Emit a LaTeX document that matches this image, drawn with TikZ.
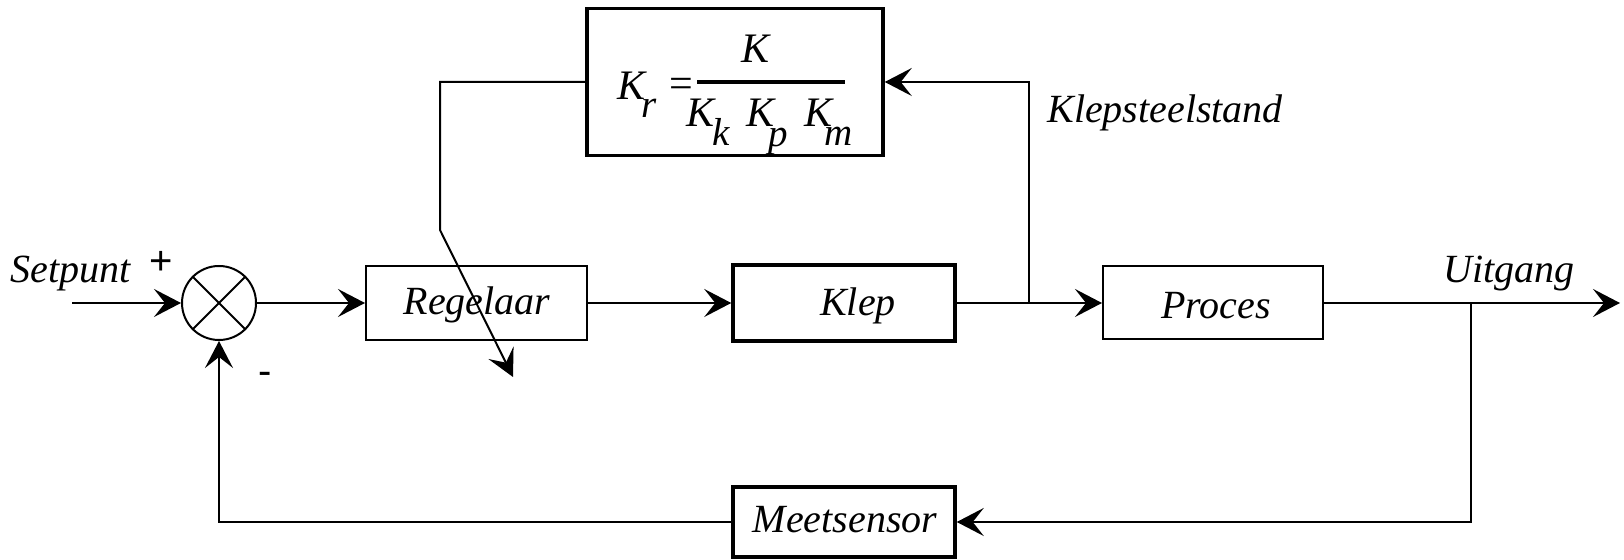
\documentclass[tikz,border=0pt]{standalone}
\usepackage{fontspec}
\setmainfont{Liberation Serif}
\newfontfamily\tnr{Liberation Serif}
\newfontfamily\sansf{Liberation Sans}
\usetikzlibrary{arrows.meta}
\begin{document}
\begin{tikzpicture}[x=0.5pt,y=-0.5pt,
  lbl/.style={inner sep=0pt, font=\tnr\fontsize{20}{24}\selectfont\itshape},
  fml/.style={inner sep=0pt, font=\tnr\fontsize{21}{24}\selectfont\itshape},
  sub/.style={inner sep=0pt, font=\tnr\fontsize{19.5}{22}\selectfont\itshape},
  sgn/.style={inner sep=0pt, font=\sansf\fontsize{20}{24}\selectfont},
  thinbox/.style={draw, line width=1pt, inner sep=0pt},
  thickbox/.style={draw, line width=1.75pt, inner sep=0pt},
  arr/.style={-{Stealth[length=13.5pt,width=14pt,inset=5.5pt]}, line width=1pt},
  conn/.style={line width=1pt}]
\useasboundingbox (0,0) rectangle (1624,560);

% blocks
\node[draw, circle, line width=1pt, minimum size=37pt, inner sep=0pt] (sum) at (219,303) {};
\node[thinbox, minimum width=110.5pt, minimum height=37pt] (reg) at (476.5,303) {};
\node[thickbox, minimum width=111pt, minimum height=38pt] (klep) at (844,303) {};
\node[thinbox, minimum width=110pt, minimum height=36.5pt] (proc) at (1213,303) {};
\node[thickbox, minimum width=111pt, minimum height=35pt] (meet) at (844,522) {};
\node[thickbox, minimum width=148pt, minimum height=73.5pt] (ctrl) at (735,82) {};

\draw[conn] (sum.north west) -- (sum.south east);
\draw[conn] (sum.north east) -- (sum.south west);

% coordinates
\coordinate (in) at (72,303);
\coordinate (out) at (1620,303);
\coordinate (j1) at (1029,303);
\coordinate (j2) at (1471,303);
\coordinate (c1) at (440,230);
\coordinate (tip) at (513,377);

% connectors
\draw[arr] (in) -- (sum.west);
\draw[arr] (sum.east) -- (reg.west);
\draw[arr] (reg.east) -- (klep.west);
\draw[arr] (klep.east) -- (proc.west);
\draw[arr] (proc.east) -- (out);
\draw[arr] (j1) |- (ctrl.east);
\draw[arr] (j2) |- (meet.east);
\draw[arr] (meet.west) -| (sum.south);
\draw[arr] (ctrl.west) -| (c1) -- (tip);

% labels
\node[lbl, anchor=base west] (lset) at (10,283) {Setpunt};
\node[sgn] (lplus) at (161,263) {+};
\node[sgn] (lminus) at (265,378) {-};
\node[lbl, anchor=base] (lreg) at (477,315) {Regelaar};
\node[lbl, anchor=base] (lklep) at (858,316) {Klep};
\node[lbl, anchor=base] (lproc) at (1216,319) {Proces};
\node[lbl, anchor=base] (lmeet) at (845,533) {Meetsensor};
\node[lbl, anchor=base west] (lks) at (1047,123) {Klepsteelstand};
\node[lbl, anchor=base west] (luit) at (1443,283) {Uitgang};

% formula
\node[fml, anchor=base west] (fK) at (617,100) {K};
\node[sub, anchor=base west] (fr) at (641,118) {r};
\node[fml, anchor=base west, font=\tnr\fontsize{21}{24}\selectfont] (feq) at (669,98) {=};
\draw[line width=2pt] (697,82) -- (845,82);
\node[fml, anchor=base] (fnum) at (756,63) {K};
\node[fml, anchor=base west] (fK1) at (686,127) {K};
\node[sub, anchor=base west] (fk) at (712,146) {k};
\node[fml, anchor=base west] (fK2) at (746,127) {K};
\node[sub, anchor=base west] (fp) at (768,147) {p};
\node[fml, anchor=base west] (fK3) at (804,127) {K};
\node[sub, anchor=base west] (fm) at (824,146) {m};
\end{tikzpicture}
\end{document}
